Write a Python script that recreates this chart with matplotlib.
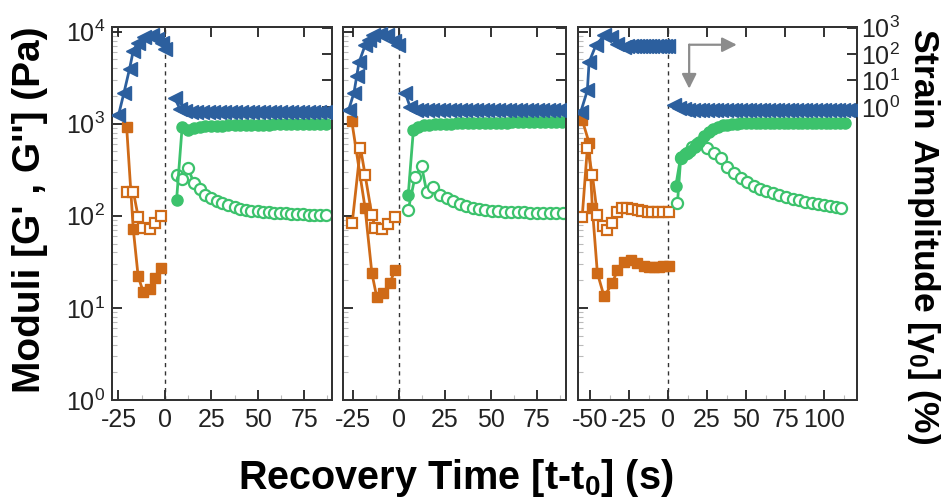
import numpy as np
import matplotlib.pyplot as plt
from matplotlib.ticker import FixedLocator, LogLocator, NullFormatter, LogFormatterMathtext

plt.rcParams['font.family'] = ['Liberation Sans', 'DejaVu Sans']
plt.rcParams['mathtext.fontset'] = 'custom'
plt.rcParams['mathtext.rm'] = 'Liberation Sans'
plt.rcParams['mathtext.bf'] = 'Liberation Sans:bold'
plt.rcParams['mathtext.it'] = 'Liberation Sans:italic'
plt.rcParams['axes.unicode_minus'] = False

BLUE = '#2c5f9e'
ORANGE = '#cf6a17'
GREEN = '#3cc26c'

# ============================================================
# data, time in s relative to t0
# ============================================================
# --- panel 1 ---
p1_strain_pre_t = [-25, -22, -19, -17, -14.5, -11, -7, -4.3, -1.6, 0]
p1_strain_pre = [0.48, 3.5, 28, 135, 270, 420, 500, 380, 250, 160]
p1_strain_post_t = [5.4, 8, 11, 14, 17, 20, 23, 26, 29, 32, 35, 38, 41, 44, 47,
                    50, 53, 56, 59, 62, 65, 68, 71, 74, 77, 80, 83, 86, 89]
p1_strain_post = [2.1, 0.87, 0.68, 0.65, 0.64, 0.63, 0.63, 0.62, 0.62, 0.62, 0.62, 0.62, 0.62, 0.62, 0.62,
                  0.62, 0.62, 0.62, 0.62, 0.62, 0.62, 0.62, 0.62, 0.62, 0.62, 0.62, 0.62, 0.62, 0.62]
p1_orange_t = [-20.6, -17, -14.4, -11.7, -8, -5.4, -2.2]
p1_gp_pre = [927, 71, 22, 15, 16, 21, 27]
p1_gpp_pre = [183, 183, 98, 74, 72, 84, 100]
p1_green_t = [6.3, 9.3, 12.5, 15.5, 18.7, 21.8, 25, 28, 31, 34, 37.5, 40.5, 43.5, 46.5,
              50, 53, 56, 59, 62, 65, 68, 71, 74.5, 77.5, 80.5, 83.5, 87]
p1_gp_post = [149, 927, 860, 900, 920, 935, 945, 950, 955, 960, 965, 968, 970, 972,
              975, 978, 980, 982, 984, 986, 988, 990, 992, 994, 996, 998, 1000]
p1_gpp_post = [279, 248, 332, 229, 193, 170, 155, 145, 137, 130, 125, 120, 117, 114,
               112, 110, 109, 108, 107, 106, 105, 104, 104, 103, 103, 102, 102]

# --- panel 2 ---
p2_strain_pre_t = [-27.5, -24.5, -23, -21.8, -18.5, -16.5, -14, -10.3, -6.7, -3, -0.4]
p2_strain_pre = [0.74, 3.5, 15, 48, 210, 350, 500, 590, 500, 320, 210]
p2_strain_post_t = [3.3, 6, 9, 12, 15, 18, 21, 24, 27, 30, 33, 36, 39, 42, 45,
                    48, 51, 54, 57, 60, 63, 66, 69, 72, 75, 78, 81, 84, 87, 90]
p2_strain_post = [3.5, 1.0, 0.78, 0.75, 0.74, 0.74, 0.74, 0.74, 0.74, 0.74, 0.74, 0.74, 0.74, 0.74, 0.74,
                  0.74, 0.74, 0.74, 0.74, 0.74, 0.74, 0.74, 0.74, 0.74, 0.74, 0.74, 0.74, 0.74, 0.74, 0.74]
p2_gp_pre_t = [-25.7, -18.5, -14.8, -12.1, -8.5, -4.9, -2.2]
p2_gp_pre = [1060, 122, 24, 13, 14.5, 18.7, 26]
p2_gpp_pre_t = [-25.5, -21, -18.5, -14.8, -13, -9.4, -5.8, -2.2]
p2_gpp_pre = [83, 550, 280, 102, 74, 72, 82, 98]
p2_gp_post_t = [5, 7.8, 10.5, 13.5, 16.5, 19.5, 22.5, 25.5, 28.5, 31.5, 34.5, 37.5, 40.5, 43.5, 46.5,
                49.5, 52.5, 55.5, 58.5, 61.5, 64.5, 67.5, 70.5, 73.5, 76.5, 79.5, 82.5, 85.5, 88.5]
p2_gp_post = [168, 860, 930, 960, 975, 985, 990, 995, 1000, 1005, 1010, 1015, 1020, 1020, 1025,
              1025, 1030, 1030, 1030, 1035, 1035, 1035, 1040, 1040, 1040, 1040, 1045, 1045, 1045]
p2_gpp_post_t = [5, 8.7, 12.3, 15, 18.6, 22.3, 25.9, 29.5, 33, 36.5, 40, 43.5, 47, 50.5,
                 54, 57.5, 61, 64.5, 68, 71.5, 75, 78.5, 82, 85.5, 89]
p2_gpp_post = [116, 267, 344, 183, 208, 170, 155, 145, 135, 128, 123, 119, 116, 114,
               112, 111, 110, 109, 109, 108, 108, 108, 107, 107, 107]

# --- panel 3 ---
p3_strain_pre_t = [-56, -51.7, -50.6, -46.3, -41, -36.7, -32.5, -28, -26, -24, -22, -20, -18,
                   -16, -14, -12, -10, -8, -6, -4, -2, 0]
p3_strain_pre = [0.63, 4.2, 49, 210, 500, 430, 240, 180, 195, 200, 200, 205, 205,
                 205, 205, 205, 205, 205, 205, 205, 205, 205]
p3_strain_post_t = [3.8, 7, 10, 13, 16, 19, 22, 25, 28, 31, 34, 37, 40, 43, 46, 49, 52, 55, 58, 61,
                    64, 67, 70, 73, 76, 79, 82, 85, 88, 91, 94, 97, 100, 103, 106, 109, 112, 115, 118, 121]
p3_strain_post = [1.15, 0.95, 0.85, 0.8, 0.77, 0.75, 0.74, 0.74, 0.74, 0.74, 0.74, 0.74, 0.74, 0.74,
                  0.74, 0.74, 0.74, 0.74, 0.74, 0.74, 0.74, 0.74, 0.74, 0.74, 0.74, 0.74, 0.74, 0.74,
                  0.74, 0.74, 0.74, 0.74, 0.74, 0.74, 0.74, 0.74, 0.74, 0.74, 0.74, 0.74]
p3_gp_pre_t = [-55, -50.6, -48.5, -45.3, -41, -35.7, -32.5, -28.2, -24, -19.7, -15.4, -12, -9, -6, -3, 0.5]
p3_gp_pre = [1100, 620, 121, 24, 13.3, 18.5, 25.8, 31.6, 33, 30.5, 28.6, 28, 28, 28, 28.6, 28.6]
p3_gpp_pre_t = [-55, -51.7, -48.5, -45.3, -42, -38.9, -35.7, -32.5, -29.3, -26, -23, -19.5,
                -16.5, -13, -10, -6.5, -3.5, 0.5]
p3_gpp_pre = [98, 545, 279, 102, 77, 70, 83, 110, 121, 121, 118, 115,
              112, 110, 110, 110, 110, 110]
p3_gp_post_t = [4.9, 8.1, 11, 14, 17, 20, 23, 26, 29, 32, 35, 38, 41, 44, 47, 50, 53, 56, 59,
                62, 65, 68, 71, 74, 77, 80, 83, 86, 89, 92, 95, 98, 101, 104, 107, 110, 113]
p3_gp_post = [209, 440, 470, 500, 560, 640, 730, 810, 880, 930, 960, 980, 990, 1000, 1005, 1010, 1010, 1015, 1015,
              1015, 1015, 1020, 1020, 1020, 1020, 1020, 1020, 1020, 1020, 1020, 1020, 1020, 1020, 1020, 1020, 1020, 1020]
p3_gpp_post_t = [6, 8.1, 12.4, 15.6, 18.5, 21, 25.2, 29.5, 33.8, 38, 42.3, 46.5, 50.5, 55, 59, 63,
                 67, 71, 75.5, 80, 84, 88, 92, 96, 100, 104, 107.5, 111]
p3_gpp_post = [137, 424, 480, 565, 600, 620, 545, 480, 424, 340, 290, 260, 235, 210, 197, 185,
               176, 168, 161, 153, 147, 142, 138, 134, 131, 127, 124, 121]

panels = [
    dict(s_pre_t=p1_strain_pre_t, s_pre=p1_strain_pre, s_post_t=p1_strain_post_t, s_post=p1_strain_post,
         gp_pre_t=p1_orange_t, gp_pre=p1_gp_pre, gpp_pre_t=p1_orange_t, gpp_pre=p1_gpp_pre,
         gp_post_t=p1_green_t, gp_post=p1_gp_post, gpp_post_t=p1_green_t, gpp_post=p1_gpp_post,
         xlim=(-28.5, 90), xticks=[-25, 0, 25, 50, 75], pos=[0.1181, 0.1968, 0.2321, 0.749]),
    dict(s_pre_t=p2_strain_pre_t, s_pre=p2_strain_pre, s_post_t=p2_strain_post_t, s_post=p2_strain_post,
         gp_pre_t=p2_gp_pre_t, gp_pre=p2_gp_pre, gpp_pre_t=p2_gpp_pre_t, gpp_pre=p2_gpp_pre,
         gp_post_t=p2_gp_post_t, gp_post=p2_gp_post, gpp_post_t=p2_gpp_post_t, gpp_post=p2_gpp_post,
         xlim=(-30.5, 90.8), xticks=[-25, 0, 25, 50, 75], pos=[0.3618, 0.1968, 0.2352, 0.749]),
    dict(s_pre_t=p3_strain_pre_t, s_pre=p3_strain_pre, s_post_t=p3_strain_post_t, s_post=p3_strain_post,
         gp_pre_t=p3_gp_pre_t, gp_pre=p3_gp_pre, gpp_pre_t=p3_gpp_pre_t, gpp_pre=p3_gpp_pre,
         gp_post_t=p3_gp_post_t, gp_post=p3_gp_post, gpp_post_t=p3_gpp_post_t, gpp_post=p3_gpp_post,
         xlim=(-57.7, 121), xticks=[-50, -25, 0, 25, 50, 75, 100], pos=[0.6097, 0.1968, 0.2943, 0.749]),
]

fig = plt.figure(figsize=(9.48, 4.98), dpi=100)

for i, p in enumerate(panels):
    ax = fig.add_axes(p['pos'])
    ax.set_yscale('log')
    ax.set_ylim(1, 10 ** 4.05)
    ax.set_xlim(*p['xlim'])

    ax2 = ax.twinx()
    ax2.set_yscale('log')
    ax2.set_ylim(10 ** -11.07, 10 ** 3.02)

    # G' (filled) and G'' (open): orange before t0, green after
    ax.plot(p['gp_pre_t'], p['gp_pre'], '-s', color=ORANGE, lw=2, ms=7.5, zorder=3)
    ax.plot(p['gpp_pre_t'], p['gpp_pre'], '-s', color=ORANGE, lw=2, ms=7.5, mfc='white', mew=1.6, zorder=3)
    ax.plot(p['gpp_post_t'], p['gpp_post'], '-o', color=GREEN, lw=2, ms=8, mfc='white', mew=1.6, zorder=3)
    ax.plot(p['gp_post_t'], p['gp_post'], '-o', color=GREEN, lw=2, ms=8, zorder=3)
    ax.axvline(0, color='#333333', lw=1, ls=(0, (3, 3)), zorder=2)

    # strain amplitude on the right axis
    ax2.plot(p['s_pre_t'], p['s_pre'], '-<', color=BLUE, lw=2, ms=10, zorder=3)
    ax2.plot(p['s_post_t'], p['s_post'], '-<', color=BLUE, lw=2, ms=10, zorder=3)

    ax.xaxis.set_major_locator(FixedLocator(p['xticks']))
    ax.xaxis.set_minor_locator(FixedLocator([t + 12.5 for t in p['xticks']] + [p['xticks'][0] - 12.5]))
    ax.yaxis.set_major_locator(LogLocator(base=10, numticks=10))
    ax.yaxis.set_minor_locator(LogLocator(base=10, subs=np.arange(2, 10), numticks=10))
    ax.yaxis.set_minor_formatter(NullFormatter())
    ax.tick_params(which='major', direction='in', length=7, width=1.3, top=True, right=False,
                   labelsize=18, colors='#222222', pad=5)
    ax.tick_params(which='minor', direction='in', length=3.5, width=0.8, top=False, right=False,
                   color='#bbbbbb')
    ax.tick_params(axis='x', which='major', top=True, pad=6)

    ax2.yaxis.set_major_locator(FixedLocator([1, 10, 100, 1000]))
    ax2.yaxis.set_minor_locator(FixedLocator([]))
    ax2.yaxis.set_major_formatter(LogFormatterMathtext())
    ax2.tick_params(which='major', direction='in', length=7, width=1.3, labelsize=18,
                    colors='#222222', pad=3)

    if i > 0:
        ax.set_yticklabels([])
    if i < 2:
        ax2.set_yticklabels([])

    for a in (ax, ax2):
        for sp in a.spines.values():
            sp.set_color('#333333')
            sp.set_linewidth(1.4)

    if i == 2:
        # elbow arrow pointing to each axis
        ax.annotate('', xy=(44, 7200), xytext=(13.5, 7200),
                    arrowprops=dict(arrowstyle='-|>', color='#8c8c8c', lw=1.6, mutation_scale=22,
                                    shrinkA=0, shrinkB=0))
        ax.annotate('', xy=(13.5, 2400), xytext=(13.5, 7200),
                    arrowprops=dict(arrowstyle='-|>', color='#8c8c8c', lw=1.6, mutation_scale=22,
                                    shrinkA=0, shrinkB=0))

fig.text(0.032, 0.578, "Moduli [G' , G''] (Pa)", rotation=90, ha='center', va='center',
         fontsize=28, fontweight='bold')
fig.text(0.974, 0.526, 'Strain Amplitude [$\\mathregular{\\gamma_0}$] (%)', rotation=270,
         ha='center', va='center', fontsize=25.5, fontweight='bold')
fig.text(0.481, 0.04, 'Recovery Time [t-t$_\\mathbf{0}$] (s)', ha='center', va='center',
         fontsize=28.5, fontweight='bold')

fig.savefig('out.png', dpi=100)
